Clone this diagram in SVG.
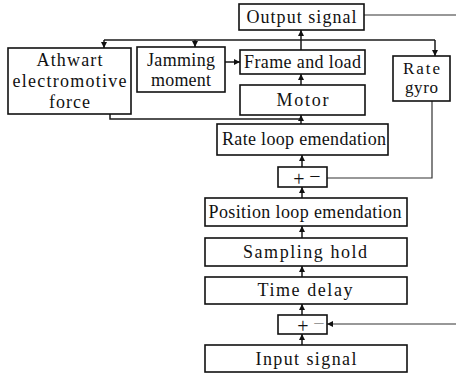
<svg xmlns="http://www.w3.org/2000/svg" width="456" height="374" viewBox="0 0 456 374">
  <style>
    .box { fill: #fff; stroke: #111; stroke-width: 1.6; }
    .lbl { font-family: "Liberation Serif", "DejaVu Serif", "Times New Roman", serif; font-size: 18px; fill: #111; text-anchor: middle; }
    .small { font-size: 17px; }
    .sign { font-family: "Liberation Serif", "DejaVu Serif", "Times New Roman", serif; font-size: 20px; fill: #111; text-anchor: middle; }
    .wire { fill: none; stroke: #1a1a1a; stroke-width: 1.5; }
    .thin { fill: none; stroke: #333; stroke-width: 1.2; }
  </style>
  <defs>
    <marker id="arr" viewBox="0 0 8 8" refX="8" refY="4" markerWidth="6" markerHeight="6" markerUnits="userSpaceOnUse" orient="auto">
      <path d="M0,0 L8,4 L0,8 z" fill="#111"/>
    </marker>
  </defs>

  <g id="connectors">
    <!-- output signal leaves to the right -->
    <path class="thin" d="M364,15 H456"/>
    <!-- frame and load to output signal -->
    <path class="wire" d="M301,50 V30" marker-end="url(#arr)"/>
    <!-- output tap bus -->
    <path class="wire" d="M104,40 H435"/>
    <path class="wire" d="M104,40 V48" marker-end="url(#arr)"/>
    <path class="wire" d="M195,40 V47" marker-end="url(#arr)"/>
    <path class="wire" d="M435,40 V56" marker-end="url(#arr)"/>
    <!-- jamming moment into frame -->
    <path class="wire" d="M225,62 H240" marker-end="url(#arr)"/>
    <!-- motor to frame -->
    <path class="wire" d="M301,85 V74" marker-end="url(#arr)"/>
    <!-- rate loop to motor -->
    <path class="wire" d="M301,124 V115" marker-end="url(#arr)"/>
    <!-- back emf into motor input -->
    <path class="wire" d="M110,114 V119 H301"/>
    <!-- rate gyro feedback -->
    <path class="thin" d="M432,101 V178 H327"/>
    <!-- forward chain -->
    <path class="wire" d="M302,167 V155" marker-end="url(#arr)"/>
    <path class="wire" d="M302,198 V187" marker-end="url(#arr)"/>
    <path class="wire" d="M302,238 V226" marker-end="url(#arr)"/>
    <path class="wire" d="M302,277 V266" marker-end="url(#arr)"/>
    <path class="wire" d="M302,315 V304" marker-end="url(#arr)"/>
    <path class="wire" d="M302,345 V334" marker-end="url(#arr)"/>
    <!-- position feedback -->
    <path class="thin" d="M456,324 H327" marker-end="url(#arr)"/>
  </g>

  <g id="output-signal">
    <rect class="box" x="239" y="4" width="125" height="26"/>
    <text class="lbl" x="301.5" y="23" textLength="110" lengthAdjust="spacing">Output signal</text>
  </g>

  <g id="athwart-emf">
    <rect class="box" x="8" y="48" width="123" height="66"/>
    <text class="lbl" x="69.5" y="66" textLength="66" lengthAdjust="spacing">Athwart</text>
    <text class="lbl" x="69.5" y="87" textLength="114" lengthAdjust="spacing">electromotive</text>
    <text class="lbl" x="69.5" y="108" textLength="41" lengthAdjust="spacing">force</text>
  </g>

  <g id="jamming-moment">
    <rect class="box" x="137" y="47" width="88" height="45"/>
    <text class="lbl" x="181" y="66" textLength="68" lengthAdjust="spacing">Jamming</text>
    <text class="lbl" x="181" y="86" textLength="60" lengthAdjust="spacing">moment</text>
  </g>

  <g id="frame-load">
    <rect class="box" x="240" y="50" width="125" height="24"/>
    <text class="lbl" x="302.5" y="68" textLength="117" lengthAdjust="spacing">Frame and load</text>
  </g>

  <g id="motor">
    <rect class="box" x="240" y="85" width="125" height="30"/>
    <text class="lbl" x="302.5" y="106" textLength="52" lengthAdjust="spacing">Motor</text>
  </g>

  <g id="rate-gyro">
    <rect class="box" x="393" y="56" width="57" height="45"/>
    <text class="lbl small" x="421.5" y="74" textLength="37" lengthAdjust="spacing">Rate</text>
    <text class="lbl small" x="421.5" y="93" textLength="33" lengthAdjust="spacing">gyro</text>
  </g>

  <g id="rate-loop">
    <rect class="box" x="217" y="124" width="171" height="31"/>
    <text class="lbl" x="304" y="145" textLength="164" lengthAdjust="spacing">Rate loop emendation</text>
  </g>

  <g id="sum-rate">
    <rect class="box" x="278" y="167" width="49" height="20"/>
    <text class="sign" x="299" y="186">+</text>
    <text class="sign" x="315" y="183">−</text>
  </g>

  <g id="position-loop">
    <rect class="box" x="205" y="198" width="202" height="28"/>
    <text class="lbl" x="305" y="218" textLength="193" lengthAdjust="spacing">Position loop emendation</text>
  </g>

  <g id="sampling-hold">
    <rect class="box" x="205" y="238" width="202" height="28"/>
    <text class="lbl" x="305" y="258" textLength="124" lengthAdjust="spacing">Sampling hold</text>
  </g>

  <g id="time-delay">
    <rect class="box" x="205" y="277" width="202" height="27"/>
    <text class="lbl" x="305" y="296" textLength="95" lengthAdjust="spacing">Time delay</text>
  </g>

  <g id="sum-position">
    <rect class="box" x="278" y="315" width="49" height="19"/>
    <text class="sign" x="303" y="333">+</text>
    <text class="sign" x="319" y="330" style="fill:#999">−</text>
  </g>

  <g id="input-signal">
    <rect class="box" x="205" y="345" width="202" height="27"/>
    <text class="lbl" x="306" y="365" textLength="101" lengthAdjust="spacing">Input signal</text>
  </g>
</svg>
